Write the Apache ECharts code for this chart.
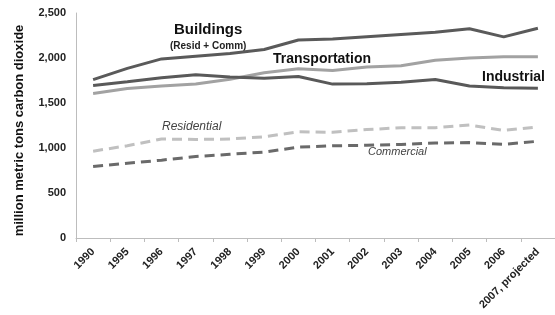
<!DOCTYPE html>
<html>
<head>
<meta charset="utf-8">
<script src="https://cdn.jsdelivr.net/npm/echarts@6/dist/echarts.min.js"></script>
<style>
  html, body { margin: 0; padding: 0; background: #fff; }
  #container { width: 555px; height: 315px; }
</style>
</head>
<body>
<div id="container"></div>
<script>
var dom = document.getElementById('container');
var myChart = echarts.init(dom, null, { renderer: 'canvas' });

var years = ['1990', '1995', '1996', '1997', '1998', '1999', '2000', '2001',
    '2002', '2003', '2004', '2005', '2006', '2007, projected'];

// million metric tons CO2
var buildings = [1760, 1885, 1990, 2020, 2050, 2095, 2200, 2210, 2235, 2260, 2285, 2325, 2235, 2330];
var transportation = [1605, 1660, 1690, 1710, 1765, 1835, 1880, 1860, 1900, 1915, 1975, 2000, 2015, 2015];
var industrial = [1695, 1735, 1780, 1815, 1790, 1775, 1795, 1710, 1715, 1730, 1760, 1690, 1670, 1665];
var residential = [965, 1025, 1100, 1095, 1100, 1125, 1180, 1175, 1205, 1225, 1225, 1255, 1195, 1235];
var commercial = [795, 830, 865, 905, 930, 955, 1010, 1025, 1030, 1040, 1055, 1060, 1040, 1075];

var yTicks = [0, 500, 1000, 1500, 2000, 2500];

var font = 'Liberation Sans, Arial, sans-serif';

function mkLine(name, data, color, dashed) {
    return {
        name: name,
        type: 'line',
        data: data,
        symbol: 'none',
        lineStyle: {
            color: color,
            width: 3,
            type: dashed ? [10, 6] : 'solid'
        },
        z: dashed ? 2 : 3
    };
}

var option = {
    animation: false,
    grid: { left: 76, right: -8, top: 13, bottom: 77 },
    xAxis: {
        type: 'category',
        data: years,
        boundaryGap: true,
        axisLine: { lineStyle: { color: '#bdbdbd', width: 1 } },
        axisTick: { show: true, length: 4, lineStyle: { color: '#bdbdbd' } },
        axisLabel: {
            rotate: 45,
            interval: 0,
            margin: 12,
            color: '#222',
            fontFamily: font,
            fontWeight: 'bold',
            fontSize: 11
        }
    },
    yAxis: {
        type: 'value',
        min: yTicks[0],
        max: yTicks[yTicks.length - 1],
        interval: 500,
        name: 'million metric tons carbon dioxide',
        nameLocation: 'middle',
        nameGap: 50,
        nameTextStyle: {
            color: '#111',
            fontFamily: font,
            fontWeight: 'bold',
            fontSize: 13,
            padding: [0, 10, 0, 0]
        },
        axisLine: { show: true, lineStyle: { color: '#bdbdbd', width: 1 } },
        axisTick: { show: false },
        splitLine: { show: false },
        axisLabel: {
            margin: 10,
            color: '#222',
            fontFamily: font,
            fontWeight: 'bold',
            fontSize: 11,
            formatter: function (v) { return v.toLocaleString('en-US'); }
        }
    },
    series: [
        mkLine('Residential', residential, '#c0c0c0', true),
        mkLine('Commercial', commercial, '#6a6a6a', true),
        mkLine('Transportation', transportation, '#a2a2a2', false),
        mkLine('Industrial', industrial, '#595959', false),
        mkLine('Buildings', buildings, '#5a5a5a', false)
    ],
    graphic: [
        { type: 'text', left: 174, top: 22, style: { text: 'Buildings', font: 'bold 15px ' + font, fill: '#111' } },
        { type: 'text', left: 170, top: 41, style: { text: '(Resid + Comm)', font: 'bold 10px ' + font, fill: '#222' } },
        { type: 'text', left: 273, top: 52, style: { text: 'Transportation', font: 'bold 14px ' + font, fill: '#111' } },
        { type: 'text', left: 482, top: 70, style: { text: 'Industrial', font: 'bold 14px ' + font, fill: '#111' } },
        { type: 'text', left: 162, top: 121, style: { text: 'Residential', font: 'italic 12px ' + font, fill: '#444' } },
        { type: 'text', left: 368, top: 146, style: { text: 'Commercial', font: 'italic 11px ' + font, fill: '#444' } }
    ]
};

myChart.setOption(option);
</script>
</body>
</html>
